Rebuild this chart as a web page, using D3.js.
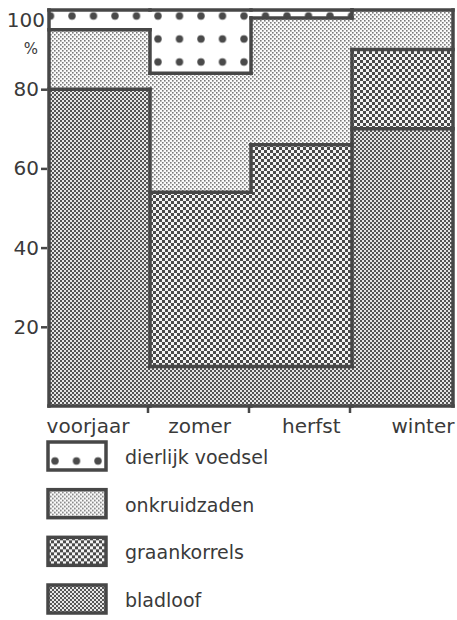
<!DOCTYPE html>
<html>
<head>
<meta charset="utf-8">
<script src="https://cdn.jsdelivr.net/npm/d3@7"></script>
<style>
  html, body { margin: 0; padding: 0; background: #fff; }
  svg { display: block; }
  text { font-family: "DejaVu Sans", sans-serif; fill: #3a3a3a; }
</style>
</head>
<body>
<script>
(function () {
  // voedsel per seizoen, in procenten (gestapeld van onder naar boven)
  const seasons = ['voorjaar', 'zomer', 'herfst', 'winter'];
  const bladloof = [80, 10, 10, 70];
  const graankorrels = [0, 44, 56, 20];
  const onkruidzaden = [15, 30, 32, 10];
  const dierlijkVoedsel = [5, 16, 2, 0];
  const keys = ['bladloof', 'graankorrels', 'onkruidzaden', 'dierlijk'];
  const legendKeys = ['dierlijk', 'onkruidzaden', 'graankorrels', 'bladloof'];
  const legendLabels = ['dierlijk voedsel', 'onkruidzaden', 'graankorrels', 'bladloof'];
  const yTicks = [20, 40, 60, 80];

  const width = 457;
  const height = 620;
  const ink = '#474747';

  const rows = seasons.map((s, i) => ({
    season: s,
    bladloof: bladloof[i],
    graankorrels: graankorrels[i],
    onkruidzaden: onkruidzaden[i],
    dierlijk: dierlijkVoedsel[i],
  }));

  const x = d3.scaleBand().domain(seasons).range([49, 453]).padding(0);
  const y = d3.scaleLinear().domain([0, 100]).range([406, 10]);
  const labelX = d3.scalePoint().domain(seasons).range([88, 423]);

  const svg = d3.select('body').append('svg')
    .attr('width', width)
    .attr('height', height);

  const defs = svg.append('defs');

  // rasterpatronen
  function checker(id, size, cell, color, bg) {
    const p = defs.append('pattern')
      .attr('id', id)
      .attr('patternUnits', 'userSpaceOnUse')
      .attr('width', size)
      .attr('height', size);
    p.append('rect').attr('width', size).attr('height', size).attr('fill', bg);
    p.append('rect').attr('x', 0).attr('y', 0).attr('width', cell).attr('height', cell).attr('fill', color);
    p.append('rect').attr('x', size / 2).attr('y', size / 2).attr('width', cell).attr('height', cell).attr('fill', color);
  }
  function dots(id, ox, oy) {
    const p = defs.append('pattern')
      .attr('id', id)
      .attr('patternUnits', 'userSpaceOnUse')
      .attr('x', ox)
      .attr('y', oy)
      .attr('width', 21.5)
      .attr('height', 23);
    p.append('rect').attr('width', 21.5).attr('height', 23).attr('fill', '#fff');
    p.append('circle').attr('cx', 10.75).attr('cy', 11.5).attr('r', 3.7).attr('fill', '#4a4a4a');
  }
  checker('pat-bladloof', 4, 2, '#555', '#e6e6e6');
  checker('pat-graankorrels', 6, 3, '#4a4a4a', '#f4f4f4');
  checker('pat-onkruidzaden', 4, 1.6, '#7a7a7a', '#fbfbfb');
  dots('pat-dierlijk', 158 - 10.75, 16 - 11.5);
  dots('pat-dierlijk-legend', 55 - 10.75, 456 - 11.5);

  const series = d3.stack().keys(keys)(rows);

  // vlakken
  svg.append('g')
    .selectAll('g')
    .data(series)
    .join('g')
    .attr('fill', d => 'url(#pat-' + d.key + ')')
    .selectAll('rect')
    .data(d => d.filter(p => p[1] > p[0]))
    .join('rect')
    .attr('x', d => x(d.data.season))
    .attr('y', d => y(d[1]))
    .attr('width', x.bandwidth())
    .attr('height', d => y(d[0]) - y(d[1]));

  // per staaf de niet-lege segmenten
  const bars = seasons.map((s, i) => series
    .map(sr => ({ key: sr.key, y0: sr[i][0], y1: sr[i][1] }))
    .filter(seg => seg.y1 > seg.y0));

  function keyAt(bar, v) {
    const seg = bar.find(s => v >= s.y0 && v < s.y1);
    return seg ? seg.key : null;
  }

  // grenslijnen tussen verschillende voedselsoorten
  const lines = [];
  bars.forEach((bar, i) => {
    const x0 = x(seasons[i]);
    const x1 = x0 + x.bandwidth();
    lines.push([[x0, y(0)], [x1, y(0)]]);
    bar.forEach(seg => lines.push([[x0, y(seg.y1)], [x1, y(seg.y1)]]));
  });
  lines.push([[x(seasons[0]), y(0)], [x(seasons[0]), y(100)]]);
  const xr = x(seasons[seasons.length - 1]) + x.bandwidth();
  lines.push([[xr, y(0)], [xr, y(100)]]);

  for (let i = 0; i < bars.length - 1; i++) {
    const left = bars[i];
    const right = bars[i + 1];
    const cuts = Array.from(new Set(left.concat(right).flatMap(s => [s.y0, s.y1]))).sort((a, b) => a - b);
    const xb = x(seasons[i + 1]);
    let start = null;
    for (let k = 0; k < cuts.length - 1; k++) {
      const mid = (cuts[k] + cuts[k + 1]) / 2;
      const differ = keyAt(left, mid) !== keyAt(right, mid);
      if (differ && start === null) start = cuts[k];
      if (!differ && start !== null) {
        lines.push([[xb, y(start)], [xb, y(cuts[k])]]);
        start = null;
      }
    }
    if (start !== null) lines.push([[xb, y(start)], [xb, y(cuts[cuts.length - 1])]]);
  }

  svg.append('g')
    .attr('fill', 'none')
    .attr('stroke', ink)
    .attr('stroke-width', 3.5)
    .attr('stroke-linecap', 'square')
    .selectAll('path')
    .data(lines)
    .join('path')
    .attr('d', d => d3.line()(d));

  // y-as
  const yAxis = svg.append('g')
    .attr('transform', 'translate(47,0)')
    .call(d3.axisLeft(y).tickValues(yTicks).tickSize(6).tickPadding(2));
  yAxis.select('.domain').remove();
  yAxis.selectAll('.tick line').attr('stroke', ink).attr('stroke-width', 2.5);
  yAxis.selectAll('.tick text')
    .attr('font-size', 20)
    .attr('font-family', '"DejaVu Sans", sans-serif')
    .attr('fill', '#3a3a3a');

  svg.append('text')
    .attr('x', 45)
    .attr('y', y(100) + 17)
    .attr('text-anchor', 'end')
    .attr('font-size', 20)
    .text('100');
  svg.append('text')
    .attr('x', 31)
    .attr('y', y(100) + 44)
    .attr('text-anchor', 'middle')
    .attr('font-size', 15)
    .text('%');

  // x-as
  svg.append('g')
    .selectAll('line')
    .data(seasons.slice(1))
    .join('line')
    .attr('x1', d => x(d) - 2)
    .attr('x2', d => x(d) - 2)
    .attr('y1', y(0))
    .attr('y2', y(0) + 7)
    .attr('stroke', ink)
    .attr('stroke-width', 2.5);

  svg.append('g')
    .selectAll('text')
    .data(seasons)
    .join('text')
    .attr('x', d => labelX(d))
    .attr('y', 433)
    .attr('text-anchor', 'middle')
    .attr('font-size', 20)
    .text(d => d);

  // legenda
  const legendY = d3.scalePoint().domain(legendKeys).range([442, 585]);
  const legend = svg.append('g')
    .selectAll('g')
    .data(legendKeys)
    .join('g')
    .attr('transform', d => 'translate(0,' + legendY(d) + ')');

  legend.append('rect')
    .attr('x', 48)
    .attr('y', 0)
    .attr('width', 58)
    .attr('height', 28)
    .attr('fill', d => d === 'dierlijk' ? 'url(#pat-dierlijk-legend)' : 'url(#pat-' + d + ')')
    .attr('stroke', ink)
    .attr('stroke-width', 3.5);

  legend.append('text')
    .attr('x', 125)
    .attr('y', 22)
    .attr('font-size', 19)
    .text((d, i) => legendLabels[i]);
})();
</script>
</body>
</html>
